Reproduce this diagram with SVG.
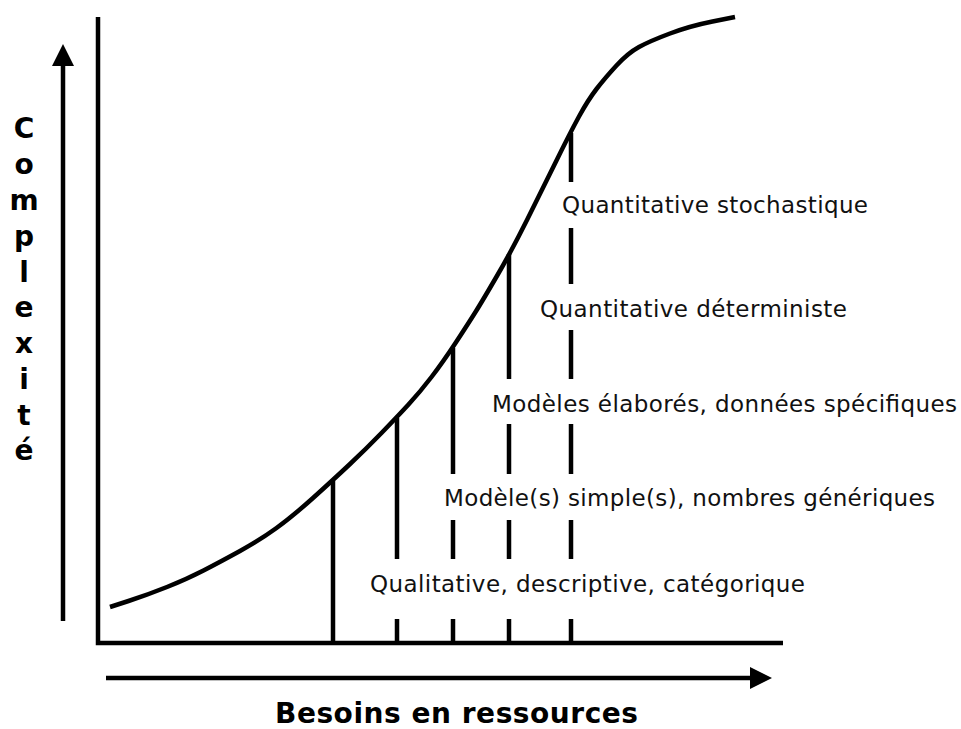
<svg xmlns="http://www.w3.org/2000/svg" width="961" height="729" viewBox="0 0 961 729">
  <defs>
    <style>
      .stroke { fill: none; stroke: #000; stroke-width: 4.5; }
      .curve { fill: none; stroke: #000; stroke-width: 4.5; stroke-linejoin: round; stroke-linecap: butt; }
      .label { font-family: Verdana, "DejaVu Sans", sans-serif; font-size: 23px; fill: #111; }
      .title { font-family: Verdana, "DejaVu Sans", sans-serif; font-size: 28px; font-weight: bold; fill: #000; }
    </style>
    <marker id="head" viewBox="0 0 22 22" refX="2" refY="11" markerWidth="22" markerHeight="22" markerUnits="userSpaceOnUse" orient="auto">
      <path d="M0,0 L22,11 L0,22 Z" fill="#000"/>
    </marker>
  </defs>

  <rect width="961" height="729" fill="#fff"/>

  <!-- Axes frame -->
  <g id="axes">
    <path class="stroke" d="M98,17 V643 H783" stroke-linejoin="miter"/>
  </g>

  <!-- Direction arrows -->
  <g id="arrows">
    <line class="stroke" x1="63" y1="621" x2="63" y2="64" marker-end="url(#head)"/>
    <line class="stroke" x1="106" y1="678" x2="752" y2="678" marker-end="url(#head)"/>
  </g>

  <!-- S-shaped growth curve (quadratic segments through midpoints) -->
  <g id="curve">
    <path class="curve" d="M110,607 L128.5,601 Q147,595 167,587 Q187,579 203.5,570.5 Q220,562 240,551 Q260,540 276.5,528 Q293,516 313,498 Q333,480 349.5,464.5 Q366,449 381.5,433 Q397,417 408.5,404.5 Q420,392 431.5,377 Q443,362 455.5,343 Q468,324 475.5,312 Q483,300 497.5,275 Q512,250 527,220 Q542,190 556,161.5 Q570,133 579,116.5 Q588,100 596.5,89 Q605,78 616.5,65.5 Q628,53 639,47 Q650,41 670,33.5 Q690,26 712.5,21.5 L735,17"/>
  </g>

  <!-- Divider lines under the curve, broken around the level labels -->
  <g id="dividers" class="stroke">
    <path d="M333,481 V643"/>
    <path d="M397,418 V559 M397,619 V643"/>
    <path d="M453,348 V474 M453,520 V559 M453,619 V643"/>
    <path d="M509,254 V379 M509,424 V474 M509,520 V559 M509,619 V643"/>
    <path d="M571,133 V182 M571,228 V284 M571,330 V379 M571,424 V474 M571,520 V559 M571,619 V643"/>
  </g>

  <!-- Level labels -->
  <g id="levels">
    <text id="lvl-stochastique" class="label" x="562" y="213" textLength="306">Quantitative stochastique</text>
    <text id="lvl-deterministe" class="label" x="540" y="317" textLength="307">Quantitative déterministe</text>
    <text id="lvl-elabores" class="label" x="492" y="412" textLength="465">Modèles élaborés, données spécifiques</text>
    <text id="lvl-simples" class="label" x="444" y="506" textLength="491">Modèle(s) simple(s), nombres génériques</text>
    <text id="lvl-qualitative" class="label" x="370" y="592" textLength="435">Qualitative, descriptive, catégorique</text>
  </g>

  <!-- Axis titles -->
  <g id="y-title" class="title" text-anchor="middle">
    <text x="24" y="138">C</text>
    <text x="24" y="174">o</text>
    <text x="24" y="210">m</text>
    <text x="24" y="246">p</text>
    <text x="24" y="282">l</text>
    <text x="24" y="317">e</text>
    <text x="24" y="353">x</text>
    <text x="24" y="389">i</text>
    <text x="24" y="425">t</text>
    <text x="24" y="460">é</text>
  </g>
  <g id="x-title">
    <text class="title" x="275" y="723" textLength="363">Besoins en ressources</text>
  </g>
</svg>
